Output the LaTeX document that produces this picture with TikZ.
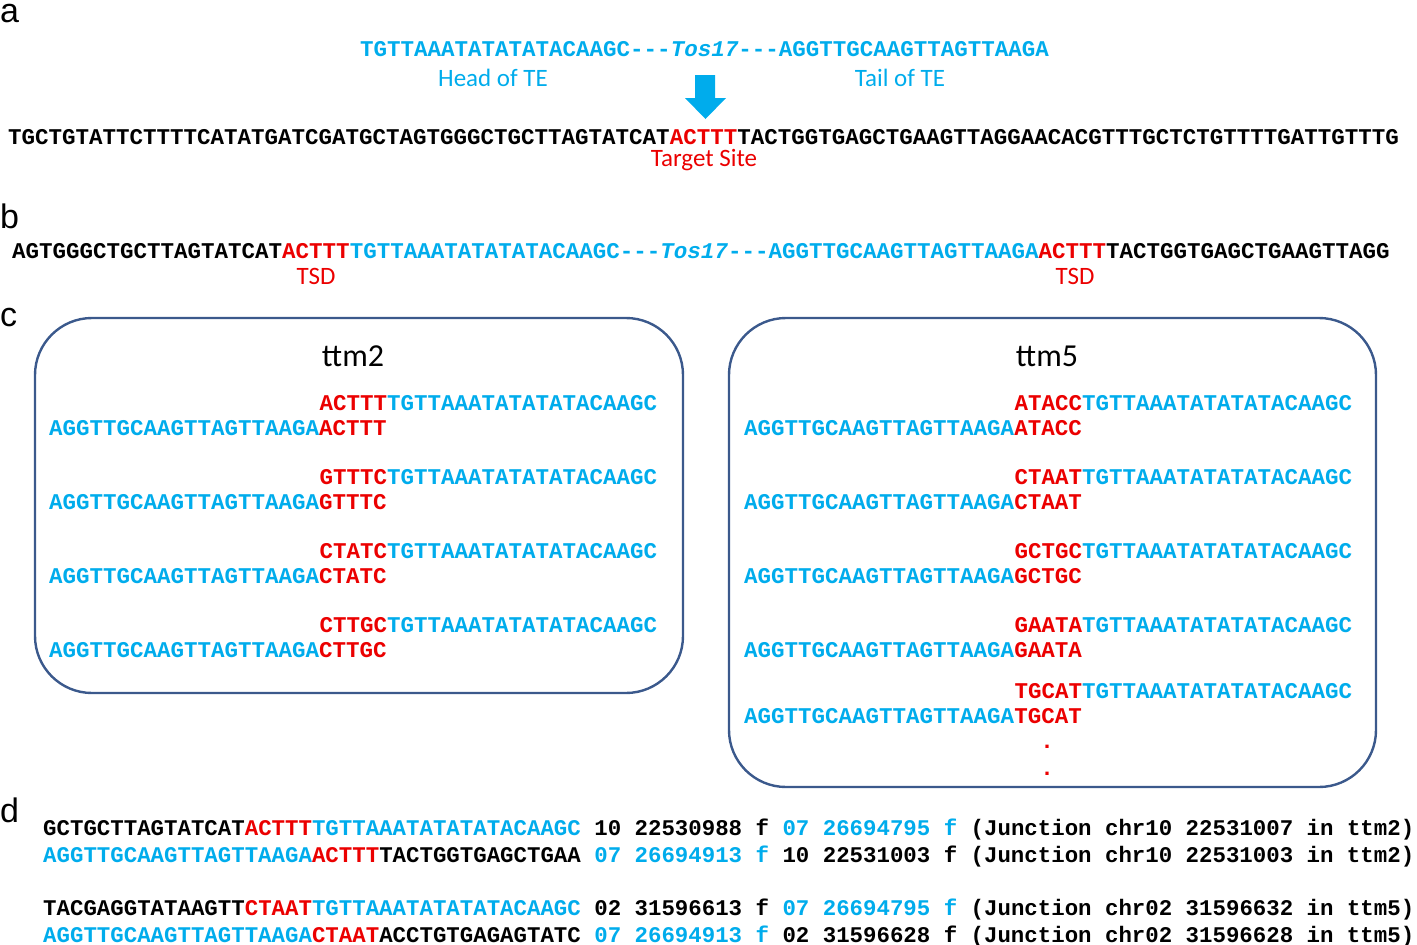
\documentclass[tikz,border=0pt]{standalone}
\usepackage{fontspec}
\setmainfont{Carlito}
\newfontfamily\seqfont{Liberation Mono}
\newfontfamily\arialfont{Liberation Sans}
\definecolor{teblue}{RGB}{0,172,236}
\definecolor{tsdred}{RGB}{235,0,0}
\definecolor{boxblue}{RGB}{59,89,140}
\newcommand{\sqB}[1]{\textcolor{teblue}{#1}}
\newcommand{\sqR}[1]{\textcolor{tsdred}{#1}}
\frenchspacing
\begin{document}
\begin{tikzpicture}[x=1pt,y=-1pt,
  seq/.style={anchor=base west,inner sep=0pt,font=\seqfont\bfseries\fontsize{22.5}{27}\selectfont},
  seqd/.style={anchor=base west,inner sep=0pt,font=\seqfont\bfseries\fontsize{22.4}{27}\selectfont},
  lab/.style={anchor=base,inner sep=0pt,font=\fontsize{25}{30}\selectfont},
  panel/.style={anchor=base west,inner sep=0pt,font=\arialfont\fontsize{34}{40}\selectfont},
  title/.style={anchor=base,inner sep=0pt,font=\fontsize{32}{38}\selectfont},
  tbox/.style={draw=boxblue,line width=2.4pt,rounded corners=57pt}]
\useasboundingbox (0,0) rectangle (1417,945);

% panel letters
\node[panel] (pa) at (0,22) {a};
\node[panel] (pb) at (0,228) {b};
\node[panel] (pc) at (0,326) {c};
\node[panel] (pd) at (0,822) {d};

% ---------- a ----------
\node[seq] (te) at (360,56) {\sqB{TGTTAAATATATATACAAGC---\textit{Tos17}---AGGTTGCAAGTTAGTTAAGA}};
\node[lab,teblue] (head) at (493,86) {Head of TE};
\node[lab,teblue] (tail) at (900,86) {Tail of TE};
\fill[teblue] (695,75) -- (715,75) -- (715,98) -- (726,98) -- (705.5,119) -- (685,98) -- (695,98) -- cycle;
\node[seq] (target) at (8,144) {TGCTGTATTCTTTTCATATGATCGATGCTAGTGGGCTGCTTAGTATCAT\sqR{ACTTT}TACTGGTGAGCTGAAGTTAGGAACACGTTTGCTCTGTTTTGATTGTTTG};
\node[lab,tsdred] (site) at (704,166) {Target Site};

% ---------- b ----------
\node[seq] (ins) at (12,258) {AGTGGGCTGCTTAGTATCAT\sqR{ACTTT}\sqB{TGTTAAATATATATACAAGC---\textit{Tos17}---AGGTTGCAAGTTAGTTAAGA}\sqR{ACTTT}TACTGGTGAGCTGAAGTTAGG};
\node[lab,tsdred] (tsd1) at (316,284) {TSD};
\node[lab,tsdred] (tsd2) at (1075,284) {TSD};

% ---------- c ----------
\draw[tbox] (35,318) rectangle (683,693);
\draw[tbox] (729,318) rectangle (1376,787);
\node[title] (ttm2) at (353,366) {ttm2};
\node[title] (ttm5) at (1047,366) {ttm5};

% ttm2 rows
\node[seq] (l1a) at (319.4,410) {\sqR{ACTTT}\sqB{TGTTAAATATATATACAAGC}};
\node[seq] (l1b) at (49,435) {\sqB{AGGTTGCAAGTTAGTTAAGA}\sqR{ACTTT}};
\node[seq] (l2a) at (319.4,484) {\sqR{GTTTC}\sqB{TGTTAAATATATATACAAGC}};
\node[seq] (l2b) at (49,509) {\sqB{AGGTTGCAAGTTAGTTAAGA}\sqR{GTTTC}};
\node[seq] (l3a) at (319.4,558) {\sqR{CTATC}\sqB{TGTTAAATATATATACAAGC}};
\node[seq] (l3b) at (49,583) {\sqB{AGGTTGCAAGTTAGTTAAGA}\sqR{CTATC}};
\node[seq] (l4a) at (319.4,632) {\sqR{CTTGC}\sqB{TGTTAAATATATATACAAGC}};
\node[seq] (l4b) at (49,657) {\sqB{AGGTTGCAAGTTAGTTAAGA}\sqR{CTTGC}};

% ttm5 rows
\node[seq] (r1a) at (1014.4,410) {\sqR{ATACC}\sqB{TGTTAAATATATATACAAGC}};
\node[seq] (r1b) at (744,435) {\sqB{AGGTTGCAAGTTAGTTAAGA}\sqR{ATACC}};
\node[seq] (r2a) at (1014.4,484) {\sqR{CTAAT}\sqB{TGTTAAATATATATACAAGC}};
\node[seq] (r2b) at (744,509) {\sqB{AGGTTGCAAGTTAGTTAAGA}\sqR{CTAAT}};
\node[seq] (r3a) at (1014.4,558) {\sqR{GCTGC}\sqB{TGTTAAATATATATACAAGC}};
\node[seq] (r3b) at (744,583) {\sqB{AGGTTGCAAGTTAGTTAAGA}\sqR{GCTGC}};
\node[seq] (r4a) at (1014.4,632) {\sqR{GAATA}\sqB{TGTTAAATATATATACAAGC}};
\node[seq] (r4b) at (744,657) {\sqB{AGGTTGCAAGTTAGTTAAGA}\sqR{GAATA}};
\node[seq] (r5a) at (1014.4,698) {\sqR{TGCAT}\sqB{TGTTAAATATATATACAAGC}};
\node[seq] (r5b) at (744,723) {\sqB{AGGTTGCAAGTTAGTTAAGA}\sqR{TGCAT}};
\node[seq,anchor=base,tsdred] (dot1) at (1047,748) {.};
\node[seq,anchor=base,tsdred] (dot2) at (1047,775) {.};

% ---------- d ----------
\node[seqd] (d1) at (43,835) {GCTGCTTAGTATCAT\sqR{ACTTT}\sqB{TGTTAAATATATATACAAGC} 10 22530988 f \sqB{07 26694795 f} (Junction chr10 22531007 in ttm2)};
\node[seqd] (d2) at (43,862) {\sqB{AGGTTGCAAGTTAGTTAAGA}\sqR{ACTTT}TACTGGTGAGCTGAA \sqB{07 26694913 f} 10 22531003 f (Junction chr10 22531003 in ttm2)};
\node[seqd] (d3) at (43,915) {TACGAGGTATAAGTT\sqR{CTAAT}\sqB{TGTTAAATATATATACAAGC} 02 31596613 f \sqB{07 26694795 f} (Junction chr02 31596632 in ttm5)};
\node[seqd] (d4) at (43,942) {\sqB{AGGTTGCAAGTTAGTTAAGA}\sqR{CTAAT}ACCTGTGAGAGTATC \sqB{07 26694913 f} 02 31596628 f (Junction chr02 31596628 in ttm5)};
\end{tikzpicture}
\end{document}
